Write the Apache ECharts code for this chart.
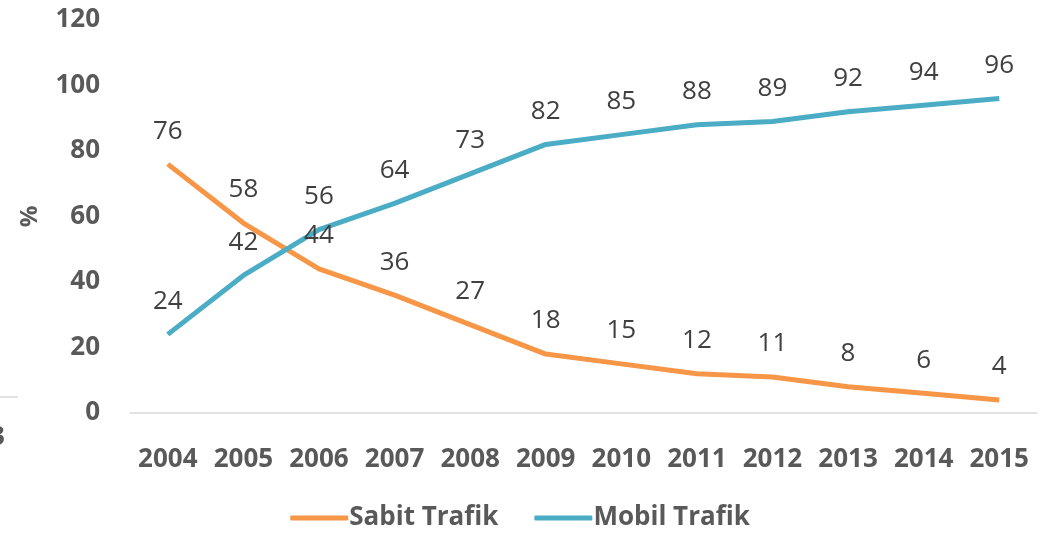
<!DOCTYPE html>
<html>
<head>
<meta charset="utf-8">
<script src="https://cdn.jsdelivr.net/npm/echarts@6/dist/echarts.min.js"></script>
<style>
    html, body { margin: 0; padding: 0; background: #fff; }
    #chart { width: 1040px; height: 533px; }
</style>
</head>
<body>
<div id="chart"></div>
<script>
    // yıllar
    var years = ['2004', '2005', '2006', '2007', '2008', '2009', '2010', '2011', '2012', '2013', '2014', '2015'];
    // sabit trafik payı (%)
    var sabitTrafik = [76, 58, 44, 36, 27, 18, 15, 12, 11, 8, 6, 4];
    // mobil trafik payı (%)
    var mobilTrafik = [24, 42, 56, 64, 73, 82, 85, 88, 89, 92, 94, 96];
    var seriesNames = ['Sabit Trafik', 'Mobil Trafik'];

    var fontFam = '"Open Sans", "Liberation Sans", sans-serif';
    var myChart = echarts.init(document.getElementById('chart'));

    function lineSeries(name, data, color) {
        return {
            name: name,
            type: 'line',
            data: data,
            symbol: 'circle',
            symbolSize: 0,
            lineStyle: { color: color, width: 5 },
            itemStyle: { color: color },
            label: {
                show: true,
                position: 'top',
                distance: 20,
                color: '#404040',
                fontSize: 26
            }
        };
    }

    myChart.setOption({
        animation: false,
        textStyle: { fontFamily: fontFam },
        grid: {
            left: 130,
            right: 3,
            top: 20,
            bottom: 120
        },
        legend: {
            top: 500,
            left: 'center',
            itemWidth: 58,
            itemHeight: 5,
            itemGap: 36,
            icon: 'roundRect',
            textStyle: {
                color: '#595959',
                fontSize: 26,
                fontWeight: 'bold',
                fontFamily: fontFam,
                padding: [0, 0, 0, -4]
            },
            data: seriesNames
        },
        xAxis: {
            type: 'category',
            data: years,
            boundaryGap: true,
            axisLine: { lineStyle: { color: '#d9d9d9', width: 1.5 } },
            axisTick: { show: false },
            axisLabel: {
                color: '#595959',
                fontSize: 26,
                fontWeight: 'bold',
                margin: 34,
                interval: 0
            }
        },
        yAxis: {
            type: 'value',
            min: 0,
            max: 120,
            interval: 20,
            name: '%',
            nameLocation: 'middle',
            nameGap: 88,
            nameRotate: 90,
            nameTextStyle: { color: '#595959', fontSize: 24, fontWeight: 'bold' },
            axisLine: { show: false },
            axisTick: { show: false },
            splitLine: { show: false },
            axisLabel: {
                color: '#595959',
                fontSize: 26,
                fontWeight: 'bold',
                margin: 30
            }
        },
        series: [
            lineSeries(seriesNames[0], sabitTrafik, '#F79646'),
            lineSeries(seriesNames[1], mobilTrafik, '#4BACC6')
        ],
        // komşu grafikten kalan kesik parçalar
        graphic: [{
            type: 'line',
            shape: { x1: 0, y1: 397, x2: 18, y2: 397 },
            style: { stroke: '#d9d9d9', lineWidth: 1.5 }
        }, {
            type: 'text',
            left: -10,
            top: 425,
            style: { text: '3', fill: '#595959', font: 'bold 26px ' + fontFam }
        }]
    });
</script>
</body>
</html>
